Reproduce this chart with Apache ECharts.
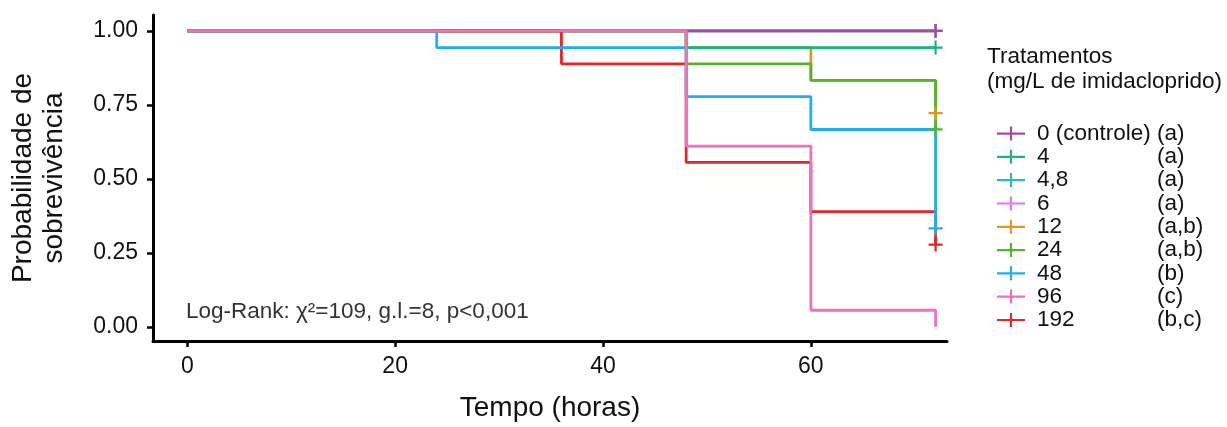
<!DOCTYPE html>
<html>
<head>
<meta charset="utf-8">
<script src="https://cdn.jsdelivr.net/npm/echarts@6/dist/echarts.min.js"></script>
<style>
  html, body { margin: 0; padding: 0; background: #fff; }
  #survChart { width: 1227px; height: 427px; }
</style>
</head>
<body>
<div id="survChart"></div>
<script>
// treatments (mg/L de imidacloprido) and log-rank groups
var groups = ['0 (controle)', '4', '4,8', '6', '12', '24', '48', '96', '192'];
var letters = ['(a)', '(a)', '(a)', '(a)', '(a,b)', '(a,b)', '(b)', '(c)', '(b,c)'];
var colors = ['#9A4FA0', '#1DB47E', '#20BCC0', '#E078EC', '#DB9A22', '#52B52C', '#1DB0E9', '#F46EBA', '#E3262A'];

// Kaplan-Meier steps, one pair of arrays per treatment
var times = [
    [0, 72],
    [0, 48, 72],
    [0, 72],
    [0, 72],
    [0, 48, 60, 72],
    [0, 48, 60, 72],
    [0, 24, 48, 60, 72],
    [0, 48, 60, 72],
    [0, 36, 48, 60, 72]
];
var surv = [
    [1, 1],
    [1, 0.944, 0.944],
    [1, 1],
    [1, 1],
    [1, 0.944, 0.833, 0.722],
    [1, 0.889, 0.833, 0.667],
    [1, 0.944, 0.778, 0.667, 0.333],
    [1, 0.611, 0.056, 0],
    [1, 0.889, 0.556, 0.389, 0.278]
];

// censored individuals at the end of the test
var censorTime = 72;
var censorSurv = [1, 0.944, 1, 1, 0.722, 0.667, 0.333, null, 0.278];

var xTicks = [0, 20, 40, 60];
var yTicks = [0, 0.25, 0.5, 0.75, 1];

// order the curves are painted (later on top)
var drawOrder = [2, 3, 0, 4, 1, 5, 8, 6, 7];

var plusPath = 'path://M4.2,0H5.8V4.2H10V5.8H5.8V10H4.2V5.8H0V4.2H4.2Z';
var legendIcon = 'path://M0,6H28V8.2H0Z M12.9,0H15.1V14H12.9Z';
var font = 'Liberation Sans';

var series = [];
drawOrder.forEach(function (g) {
    var pts = [];
    for (var i = 0; i < times[g].length; i++) {
        pts.push([times[g][i], surv[g][i]]);
    }
    series.push({
        name: groups[g],
        type: 'line',
        step: 'end',
        data: pts,
        symbol: 'none',
        color: colors[g],
        lineStyle: { width: 2.8, color: colors[g] },
        itemStyle: { color: colors[g] },
        silent: true
    });
});
drawOrder.forEach(function (g) {
    if (censorSurv[g] === null) return;
    series.push({
        name: 'censor ' + groups[g],
        type: 'scatter',
        data: [[censorTime, censorSurv[g]]],
        symbol: plusPath,
        symbolSize: 14,
        itemStyle: { color: colors[g], opacity: 1 },
        silent: true,
        z: 3
    });
});

var letterOf = {};
groups.forEach(function (n, i) { letterOf[n] = letters[i]; });

var chartDom = document.getElementById('survChart');
var myChart = echarts.init(chartDom);
var option;

option = {
    animation: false,
    color: colors,
    grid: { left: 153, right: 280, top: 15, bottom: 84 },
    title: {
        text: 'Tratamentos\n(mg/L de imidacloprido)',
        left: 987,
        top: 44,
        padding: 0,
        textStyle: {
            fontFamily: font,
            fontWeight: 'normal',
            fontSize: 22.5,
            lineHeight: 25,
            color: '#111'
        }
    },
    legend: {
        orient: 'vertical',
        left: 997,
        top: 122,
        padding: 0,
        itemWidth: 28,
        itemHeight: 14,
        itemGap: 0.3,
        selectedMode: false,
        data: groups.map(function (n, i) {
            return { name: n, icon: legendIcon, itemStyle: { color: colors[i] } };
        }),
        formatter: function (name) {
            return '{n|' + name + '}{l|' + letterOf[name] + '}';
        },
        textStyle: {
            fontFamily: font,
            fontSize: 22.5,
            color: '#111',
            rich: {
                n: { width: 120, padding: [0, 0, 0, 7], fontSize: 22.5, lineHeight: 20, fontFamily: font, color: '#111' },
                l: { fontSize: 22.5, lineHeight: 20, fontFamily: font, color: '#111' }
            }
        }
    },
    graphic: [{
        type: 'text',
        left: 186,
        top: 300,
        style: {
            text: 'Log-Rank: \u03c7\u00b2=109, g.l.=8, p<0,001',
            font: '22.5px "Liberation Sans"',
            fill: '#333'
        }
    }],
    xAxis: {
        type: 'value',
        min: -3.3,
        max: 73.1,
        name: 'Tempo (horas)',
        nameLocation: 'middle',
        nameGap: 53,
        nameTextStyle: { fontFamily: font, fontSize: 28, color: '#111' },
        splitLine: { show: false },
        axisLine: { show: true, onZero: false, lineStyle: { color: '#000', width: 3 } },
        axisTick: { show: true, length: 6, lineStyle: { color: '#000', width: 2.5 }, customValues: xTicks },
        axisLabel: {
            customValues: xTicks,
            margin: 14,
            fontFamily: font,
            fontSize: 23,
            color: '#111'
        }
    },
    yAxis: {
        type: 'value',
        min: -0.048,
        max: 1.054,
        name: 'Probabilidade de\nsobreviv\u00eancia',
        nameLocation: 'middle',
        nameGap: 83,
        nameTextStyle: { fontFamily: font, fontSize: 28, lineHeight: 31, color: '#111' },
        splitLine: { show: false },
        axisLine: { show: true, onZero: false, lineStyle: { color: '#000', width: 3 } },
        axisTick: { show: true, length: 6, lineStyle: { color: '#000', width: 2.5 }, customValues: yTicks },
        axisLabel: {
            customValues: yTicks,
            margin: 15,
            fontFamily: font,
            fontSize: 23,
            color: '#111',
            formatter: function (v) { return v.toFixed(2); }
        }
    },
    series: series
};

myChart.setOption(option);
</script>
</body>
</html>
